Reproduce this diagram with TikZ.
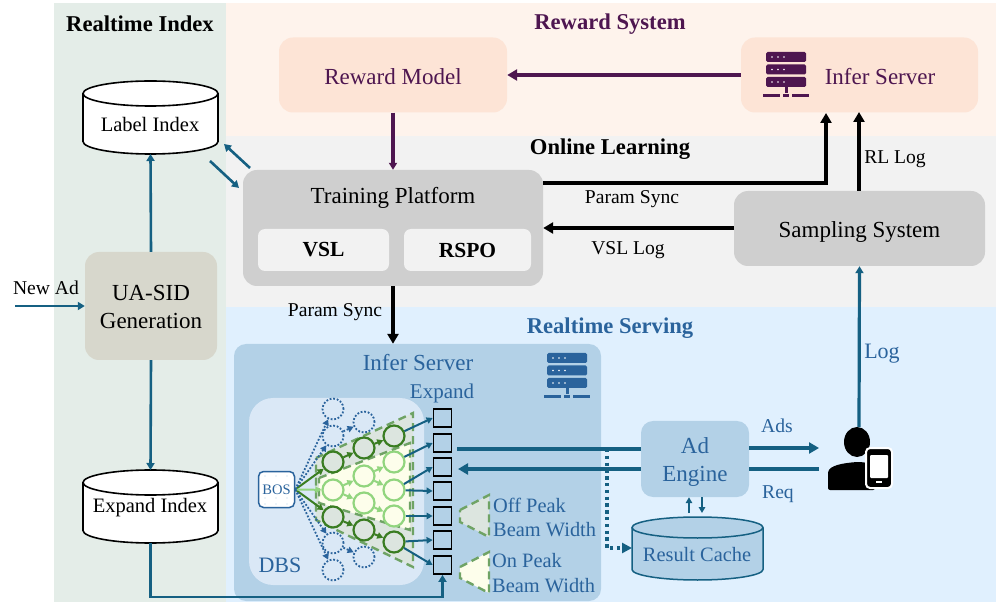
\documentclass[tikz,border=0pt]{standalone}
\usepackage{fontspec}
\setmainfont{Liberation Serif}
\usetikzlibrary{arrows.meta,calc}
\definecolor{teal1}{HTML}{156082}
\definecolor{purp}{HTML}{4E1650}
\definecolor{blutx}{HTML}{2A639C}
\definecolor{panel}{HTML}{B3D1E7}
\definecolor{dbsbg}{HTML}{DAE8F6}
\definecolor{dgreen}{HTML}{3A7D22}
\definecolor{lgreen}{HTML}{92D57F}
\definecolor{dashgreen}{HTML}{6FA365}
\definecolor{dfill}{HTML}{DCE5DF}
\definecolor{lfill}{HTML}{FDFEEB}
\newcommand{\fs}[1]{\fontsize{#1}{#1}\selectfont}
\tikzset{
  x=1pt,y=-1pt,
  tipA/.style={-{Triangle[length=10pt,width=11pt]}},
  tipB/.style={-{Triangle[length=7pt,width=8pt]}},
  tipC/.style={-{Triangle[length=6pt,width=6.5pt]}},
  box/.style={rounded corners=14pt,inner sep=0pt,align=center,font=\fs{23}},
  txt/.style={inner sep=0pt,align=center,font=\fs{23}},
  title/.style={inner sep=0pt,font=\bfseries\fs{22.6}},
  lab/.style={inner sep=0pt,font=\fs{19.6}},
  blab/.style={inner sep=0pt,font=\fs{20.4},text=blutx},
  bline/.style={line width=3.6pt,black},
  pline/.style={line width=3.4pt,purp},
  tline/.style={line width=2.6pt,teal1},
  twide/.style={line width=3.4pt,teal1},
  dcirc/.style={circle,draw=dgreen,fill=dfill,line width=2.2pt,minimum size=21pt,inner sep=0pt},
  lcirc/.style={circle,draw=lgreen,fill=lfill,line width=2.2pt,minimum size=21pt,inner sep=0pt},
  ocirc/.style={circle,draw=blutx,line width=1.8pt,dash pattern=on 1.8pt off 1.8pt,minimum size=21pt,inner sep=0pt},
  darr/.style={dgreen,line width=2pt,tipC},
  larr/.style={lgreen,line width=2pt,tipC},
  oarr/.style={blutx,line width=1.8pt,dash pattern=on 1.8pt off 1.8pt,-{Triangle[length=6pt,width=6.5pt,sep=0pt]}},
  sq/.style={draw=black,fill=panel,line width=1.8pt,minimum size=18pt,inner sep=0pt},
  sarr/.style={teal1,line width=2pt,tipC},
  dtrap/.style={fill=dfill,draw=dashgreen,line width=2.4pt,dash pattern=on 8pt off 5pt},
  ltrap/.style={fill=lfill,draw=dashgreen,line width=2.4pt,dash pattern=on 8pt off 5pt},
}
\newcommand{\servericon}[3]{%
  \begin{scope}[shift={(#1,#2)}]
    \foreach \yy in {0,12.5,25}{
      \fill[#3,rounded corners=1.5pt] (3,\yy) rectangle (43,\yy+10);
      \foreach \xx in {9,15,21}{\fill[white] (\xx,\yy+5) circle (0.9pt);}
    }
    \fill[#3] (21.5,35) rectangle (24.5,41);
    \fill[#3] (0,42) rectangle (17,45);
    \fill[#3] (20,42) rectangle (26,45);
    \fill[#3] (29,42) rectangle (46,45);
  \end{scope}}
\newcommand{\cyl}[6]{% cx top bot rx ry style
  \draw[#6] (#1-#4,#2+#5) -- (#1-#4,#3-#5) arc[start angle=180,end angle=0,x radius=#4,y radius=#5] -- (#1+#4,#2+#5);
  \draw[#6] (#1,#2+#5) ellipse [x radius=#4,y radius=#5];}
\begin{document}
\begin{tikzpicture}
\useasboundingbox (0,0) rectangle (996,609);
\fill[white] (0,0) rectangle (996,609);
% regions
\fill[fill={rgb,255:red,228;green,237;blue,232}] (54,3) rectangle (226,602);
\fill[fill={rgb,255:red,254;green,243;blue,236}] (226,3) rectangle (996,136);
\fill[fill={rgb,255:red,242;green,242;blue,242}] (226,136) rectangle (996,307);
\fill[fill={rgb,255:red,224;green,240;blue,254}] (226,307) rectangle (996,602);
\node[title] (tri) at (140,24) {Realtime Index};
\node[title,text=purp] (trw) at (610,24) {Reward System};
\node[title] (tol) at (610,149) {Online Learning};
\node[title,text=blutx] (trs) at (610,328) {Realtime Serving};
% top boxes
\node[box,fill={rgb,255:red,253;green,228;blue,214},minimum width=228pt,minimum height=75pt] (rm) at (393,75) {};
\node[txt,text=purp] (rmtx) at (393,77) {Reward Model};
\node[box,fill={rgb,255:red,253;green,228;blue,214},minimum width=237pt,minimum height=75pt] (is) at (859.5,75) {};
\node[txt,text=purp] (istx) at (880,77) {Infer Server};
\servericon{763}{52}{purp}
% online learning
\node[box,fill={rgb,255:red,207;green,207;blue,207},minimum width=300pt,minimum height=116pt] (tp) at (393,228) {};
\node[txt] (tptx) at (393,198) {Training Platform};
\node[box,rounded corners=7pt,fill={rgb,255:red,242;green,242;blue,242},font=\bfseries\fs{21.5},minimum width=131pt,minimum height=42pt] (vsl) at (323.5,250) {VSL};
\node[box,rounded corners=7pt,fill={rgb,255:red,242;green,242;blue,242},font=\bfseries\fs{21.5},minimum width=127pt,minimum height=42pt] (rspo) at (467.5,250) {RSPO};
\node[box,fill={rgb,255:red,207;green,207;blue,207},minimum width=251pt,minimum height=75pt] (ss) at (859.5,228.5) {};
\node[txt] (sstx) at (859.5,232) {Sampling System};
% index
\cyl{150.5}{81}{154}{67.5}{12.5}{fill=white,draw=black,line width=1.6pt}
\node[inner sep=0pt,font=\fs{20.5}] (li) at (150,124) {Label Index};
\cyl{150.5}{470}{543}{67.5}{12.5}{fill=white,draw=black,line width=1.6pt}
\node[inner sep=0pt,font=\fs{20.5}] (ei) at (150,508) {Expand Index};
\coordinate (litop) at (150.5,154);
\coordinate (eitop) at (150.5,470);
\coordinate (eibot) at (150.5,543);
\node[box,fill={rgb,255:red,215;green,215;blue,204},minimum width=132pt,minimum height=108pt] (ua) at (151,306) {};
\node[txt] (uatx) at (151,307) {UA-SID\\[5pt]Generation};
\node[lab] (na) at (46,288) {New Ad};
\coordinate (nast) at (15,306);
\draw[tline,tipB] (nast) -- (ua.west);
\draw[tline,tipB] (ua.north) -- (litop);
\draw[tline,tipB] (ua.south) -- (eitop);
\coordinate (da1) at (250,168); \coordinate (da2) at (224,144);
\coordinate (db1) at (210,161); \coordinate (db2) at (239,188);
\draw[tline,tipB] (da1) -- (da2);
\draw[tline,tipB] (db1) -- (db2);
% infer panel
\node[box,rounded corners=12pt,fill=panel,minimum width=367pt,minimum height=257pt] (ip) at (417.5,472.5) {};
\node[box,rounded corners=24pt,fill=dbsbg,minimum width=175pt,minimum height=187pt] (dbs) at (336.5,491.5) {};
\node[txt,text=blutx] (iptx) at (418,363) {Infer Server};
\node[lab,font=\fs{21},text=blutx] (ex) at (442,393) {Expand};
\node[inner sep=0pt,font=\fs{22},text=blutx] (dbstx) at (280,565) {DBS};
\servericon{544}{353}{blutx}
% trapezoids
\draw[dtrap] (316,458) -- (413,413) -- (413,567) -- (316,520) -- cycle;
\draw[ltrap] (319,478) -- (410,443) -- (410,530) -- (319,503) -- cycle;
\draw[dtrap] (460,510) -- (489,495) -- (489,537) -- (460,522) -- cycle;
\draw[ltrap] (460,567) -- (489,552) -- (489,593) -- (460,578) -- cycle;
\node[blab,align=left,anchor=west] (off1) at (493,505) {Off Peak};
\node[blab,align=left,anchor=west] (off2) at (493,530) {Beam Width};
\node[blab,align=left,anchor=west] (on1) at (492,561) {On Peak};
\node[blab,align=left,anchor=west] (on2) at (492,586) {Beam Width};
% BOS
\node[draw=blutx,fill=white,rounded corners=5pt,line width=1.5pt,minimum size=36pt,inner sep=0pt] (bos) at (276.5,489.5) {};
\foreach \xx in {265,276,287}{\foreach \yy in {476,487,498,504}{\fill[panel] (\xx,\yy) circle (0.6pt);}}
\node[inner sep=0pt,font=\fs{14.5},text=blutx] (bostx) at (276.5,490) {BOS};
% circles
\node[dcirc] (d1) at (333,462) {};
\node[dcirc] (d2) at (364,448) {};
\node[dcirc] (d3) at (394,436) {};
\node[dcirc] (d4) at (333,517) {};
\node[dcirc] (d5) at (364,530) {};
\node[dcirc] (d6) at (394,542) {};
\node[lcirc] (l1) at (333,490) {};
\node[lcirc] (l2) at (364,476) {};
\node[lcirc] (l3) at (364,503) {};
\node[lcirc] (l4) at (394,462) {};
\node[lcirc] (l5) at (394,490) {};
\node[lcirc] (l6) at (394,516) {};
\node[ocirc] (o1) at (333,409) {};
\node[ocirc] (o2) at (333,436) {};
\node[ocirc] (o3) at (364,422) {};
\node[ocirc] (o4) at (333,543) {};
\node[ocirc] (o5) at (364,557) {};
\node[ocirc] (o6) at (333,570) {};
\foreach \a/\b in {d1/d2,d2/d3,d4/d5,d5/d6}{\draw[darr] (\a) -- (\b);}
\foreach \a/\b in {l1/l2,l1/l3,l2/l4,l2/l5,l3/l6}{\draw[larr] (\a) -- (\b);}
\draw[darr] (bos.east) -- (d1);
\draw[darr] (bos.east) -- (d4);
\draw[larr] (bos.east) -- (l1);
\draw[oarr] (bos.east) -- (o1);
\draw[oarr] (bos.east) -- (o2);
\draw[oarr] (o2) -- (o3);
\draw[oarr] (bos.east) -- (o4);
\draw[oarr] (o4) -- (o5);
\draw[oarr] (bos.east) -- (o6);
% squares
\node[sq] (s1) at (442.5,418) {};
\node[sq] (s2) at (442.5,443) {};
\node[sq] (s3) at (442.5,467) {};
\node[sq] (s4) at (442.5,491) {};
\node[sq] (s5) at (442.5,516) {};
\node[sq] (s6) at (442.5,540) {};
\node[sq] (s7) at (442.5,565) {};
\draw[sarr] (d3) -- (s1.west);
\draw[sarr] (l4) -- (s2.west);
\draw[sarr] (l5) -- (s3.west);
\draw[sarr] (l5) -- (s4.west);
\draw[sarr] (l6) -- (s5.west);
\draw[sarr] (d6) -- (s6.west);
\draw[sarr] (d6) -- (s7.west);
\coordinate (ec) at (150.5,597);
\draw[tline,tipB] (eibot) -- (ec) -- (ec -| s7) -- (s7.south);
% ad engine
\node[box,fill=panel,minimum width=108pt,minimum height=76pt,rounded corners=12pt] (ae) at (695,459) {};
\node[txt,text=blutx] (aetx) at (695,462) {Ad\\[5pt]Engine};
\cyl{697.5}{517}{580}{65.5}{10.5}{fill=panel,draw=teal1,line width=1.5pt}
\node[blab] (rc) at (697,555) {Result Cache};
% person
\fill[black] (857,442) ellipse [x radius=13,y radius=15];
\fill[black,rounded corners=2pt] (828,490) -- (828,474) .. controls (829,465) and (845,463) .. (857,462) .. controls (866,462) and (871,464) .. (875,470) -- (875,490) -- cycle;
\draw[fill=black,draw=white,line width=2pt,rounded corners=4pt] (866,448) rectangle (892,488);
\fill[white,rounded corners=1pt] (870,455) rectangle (888,478);
\fill[white] (876,481) rectangle (882,483);
\coordinate (pers) at (859,427);
\coordinate (adsend) at (819,448);
\coordinate (reqst) at (819,469);
\coordinate (al1) at (457,449);
\coordinate (al2) at (458,469);
\coordinate (dot0) at (607,449);
\coordinate (dot1) at (607,548);
\coordinate (rcw) at (632,548);
\draw[twide] (al1) -- (al1 -| ae.west);
\draw[twide,tipA] (al2 -| ae.west) -- (al2);
\draw[twide,tipA] (ae.east |- adsend) -- (adsend);
\draw[twide] (reqst) -- (ae.east |- reqst);
\draw[teal1,line width=3.4pt,dash pattern=on 3.4pt off 3.4pt,-{Triangle[length=10pt,width=10pt,sep=0pt]}] (dot0) -- (dot1) -- (rcw);
\coordinate (cu) at (689,513); \coordinate (cd) at (702,513);
\draw[tline,tipC] (cu) -- (cu |- ae.south);
\draw[tline,tipC] (cd |- ae.south) -- (cd);
\node[blab,font=\fs{19.6}] (ads) at (777,426) {Ads};
\node[blab,font=\fs{19.6}] (req) at (778,494) {Req};
% connectors
\draw[pline,tipA] (is.west) -- (rm.east);
\draw[purp,line width=3.2pt,tipB] (rm.south) -- (rm.south |- tp.north);
\coordinate (p1) at (543,183); \coordinate (p2) at (826,183);
\coordinate (p3) at (826,113);
\draw[bline,tipA] (p1) -- (p2) -- (p3);
\node[lab] (ps1) at (632,199) {Param Sync};
\coordinate (r1) at (859,191); \coordinate (r2) at (859,112);
\draw[bline,tipA] (r1) -- (r2);
\node[lab] (rl) at (895,159) {RL Log};
\coordinate (v1) at (734,228);
\draw[bline,tipA] (v1) -- (v1 -| tp.east);
\node[lab] (vl) at (628,250) {VSL Log};
\draw[bline,tipA] (tp.south) -- (tp.south |- ip.north);
\node[lab] (ps2) at (335,312) {Param Sync};
\draw[tline,line width=3.2pt,tipB] (pers) -- (ss.south);
\node[blab,font=\fs{22}] (lg) at (882,354) {Log};
\end{tikzpicture}
\end{document}
